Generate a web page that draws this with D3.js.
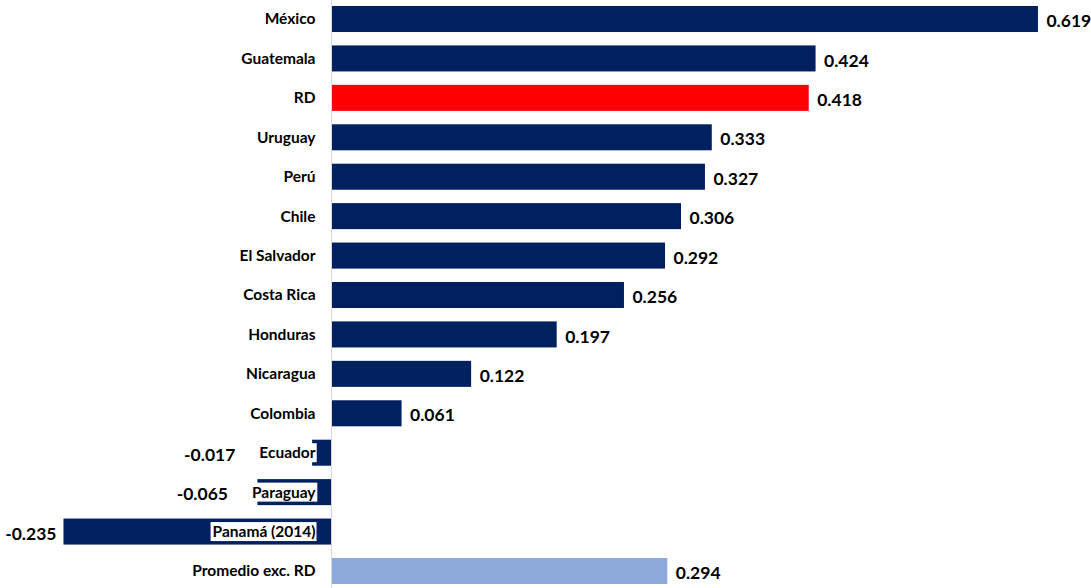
<!DOCTYPE html>
<html>
<head>
<meta charset="utf-8">
<script src="https://cdn.jsdelivr.net/npm/d3@7"></script>
<style>
  html, body { margin: 0; padding: 0; background: #fff; }
  svg { display: block; }
  text { font-family: Lato, "Open Sans", "Liberation Sans", sans-serif; font-weight: bold; fill: #000; }
</style>
</head>
<body>
<svg id="chart" width="1091" height="588"></svg>
<script>
const countries = ["México", "Guatemala", "RD", "Uruguay", "Perú", "Chile", "El Salvador",
  "Costa Rica", "Honduras", "Nicaragua", "Colombia", "Ecuador", "Paraguay", "Panamá (2014)",
  "Promedio exc. RD"];
const values = [0.619, 0.424, 0.418, 0.333, 0.327, 0.306, 0.292, 0.256, 0.197, 0.122, 0.061,
  -0.017, -0.065, -0.235, 0.294];
const highlight = "RD";
const average = "Promedio exc. RD";

const data = countries.map((c, i) => ({ name: c, value: values[i] }));

const W = 1091, H = 588;
const svg = d3.select("#chart");

const pxPerUnit = 1140.5, zeroX = 331.5;
const x = d3.scaleLinear()
  .domain([-0.29, 0.66])
  .range([zeroX - 0.29 * pxPerUnit, zeroX + 0.66 * pxPerUnit]);

const y = d3.scaleBand()
  .domain(countries)
  .range([-0.7, 590.7])
  .paddingInner(0.34)
  .paddingOuter(0.17);

const color = d => d.name === highlight ? "#FF0000" : d.name === average ? "#8EA9DB" : "#002060";
const fmt = v => (v < 0 ? "-" : "") + d3.format(".3f")(Math.abs(v));

// bars
svg.append("g").selectAll("rect")
  .data(data)
  .join("rect")
  .attr("x", d => Math.min(x(0), x(d.value)) + (d.value >= 0 ? 0.5 : 0))
  .attr("y", d => y(d.name))
  .attr("width", d => Math.abs(x(d.value) - x(0)))
  .attr("height", y.bandwidth())
  .attr("fill", color);

// zero axis line
svg.append("line")
  .attr("x1", x(0)).attr("x2", x(0))
  .attr("y1", 0).attr("y2", H)
  .attr("stroke", "#d9d9d9").attr("stroke-width", 1);

// category labels with white backing boxes
const labels = svg.append("g").selectAll("g")
  .data(data)
  .join("g")
  .attr("transform", d => `translate(${x(0) - 16},${y(d.name) + y.bandwidth() / 2})`);

labels.append("text")
  .attr("text-anchor", "end")
  .attr("dy", "0.35em")
  .attr("font-size", 15.5)
  .text(d => d.name)
  .each(function (d) {
    const b = this.getBBox();
    d.labelLeft = x(0) - 16 + b.x - 2;
    d3.select(this.parentNode).insert("rect", "text")
      .attr("x", b.x - 2).attr("y", -9.5)
      .attr("width", b.width + 3).attr("height", 19)
      .attr("fill", "#fff");
  });

// value labels; negative ones sit left of the bar or of the category label
svg.append("g").selectAll("text")
  .data(data)
  .join("text")
  .attr("x", d => {
    if (d.value >= 0) return x(d.value) + 9;
    return d.labelLeft < x(d.value) ? d.labelLeft - 22 : x(d.value) - 7;
  })
  .attr("y", d => y(d.name) + y.bandwidth() / 2 + 2)
  .attr("dy", "0.35em")
  .attr("text-anchor", d => d.value >= 0 ? "start" : "end")
  .attr("font-size", 17.5)
  .text(d => fmt(d.value));
</script>
</body>
</html>
